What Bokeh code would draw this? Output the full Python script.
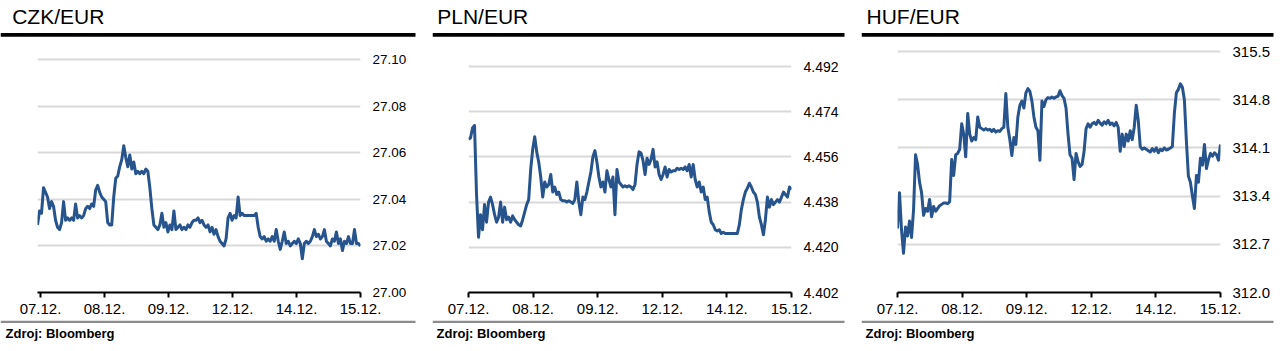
import numpy as np
from bokeh.plotting import figure
from bokeh.layouts import row, column
from bokeh.models import Range1d, FixedTicker, Label, BoxAnnotation, PrintfTickFormatter
from bokeh.embed import file_html
from bokeh.resources import INLINE

# ---------------- data ----------------
dates = ["07.12.", "08.12.", "09.12.", "12.12.", "14.12.", "15.12."]
titles = ["CZK/EUR", "PLN/EUR", "HUF/EUR"]
source_text = "Zdroj: Bloomberg"

czk_ticks = [27.00, 27.02, 27.04, 27.06, 27.08, 27.10]
pln_ticks = [4.402, 4.420, 4.438, 4.456, 4.474, 4.492]
huf_ticks = [312.0, 312.7, 313.4, 314.1, 314.8, 315.5]

czk = [27.029, 27.035, 27.034, 27.045, 27.043, 27.041, 27.036, 27.039, 27.037, 27.031,
       27.028, 27.027, 27.030, 27.039, 27.031, 27.032, 27.031, 27.032, 27.031, 27.038,
       27.032, 27.033, 27.032, 27.033, 27.036, 27.037, 27.036, 27.038, 27.037, 27.044,
       27.046, 27.043, 27.041, 27.040, 27.039, 27.030, 27.029, 27.029, 27.041, 27.049,
       27.050, 27.054, 27.057, 27.063, 27.058, 27.054, 27.059, 27.053, 27.056, 27.051,
       27.052, 27.051, 27.052, 27.051, 27.053, 27.052, 27.045, 27.036, 27.029, 27.028,
       27.027, 27.029, 27.034, 27.028, 27.030, 27.026, 27.029, 27.027, 27.035, 27.027,
       27.028, 27.029, 27.027, 27.028, 27.027, 27.029, 27.028, 27.030, 27.031, 27.031,
       27.032, 27.030, 27.031, 27.029, 27.028, 27.029, 27.026, 27.028, 27.025, 27.027,
       27.024, 27.022, 27.021, 27.020, 27.023, 27.032, 27.034, 27.031, 27.033, 27.032,
       27.041, 27.033, 27.034, 27.033, 27.033, 27.033, 27.033, 27.033, 27.033, 27.034,
       27.028, 27.024, 27.023, 27.024, 27.022, 27.023, 27.022, 27.024, 27.022, 27.027,
       27.022, 27.0185, 27.022, 27.026, 27.021, 27.022, 27.020, 27.021, 27.022, 27.021,
       27.023, 27.021, 27.0145, 27.021, 27.022, 27.021, 27.022, 27.024, 27.027, 27.024,
       27.025, 27.023, 27.024, 27.027, 27.022, 27.021, 27.020, 27.023, 27.022, 27.026,
       27.021, 27.023, 27.018, 27.022, 27.021, 27.024, 27.021, 27.021, 27.027, 27.021,
       27.021, 27.020]

pln = [4.4630, 4.4635, 4.4675, 4.4685, 4.4410, 4.4240, 4.4330, 4.4270, 4.4370, 4.4300,
       4.4380, 4.4400, 4.4370, 4.4330, 4.4300, 4.4320, 4.4380, 4.4300, 4.4360, 4.4310,
       4.4320, 4.4300, 4.4325, 4.4310, 4.4300, 4.4290, 4.4285, 4.4310, 4.4340, 4.4370,
       4.4390, 4.4510, 4.4590, 4.4640, 4.4580, 4.4540, 4.4480, 4.4400, 4.4460, 4.4440,
       4.4450, 4.4490, 4.4420, 4.4440, 4.4410, 4.4420, 4.4390, 4.4385, 4.4385, 4.4380,
       4.4385, 4.4380, 4.4375, 4.4390, 4.4460, 4.4380, 4.4330, 4.4400, 4.4390, 4.4420,
       4.4460, 4.4500, 4.4560, 4.4585, 4.4540, 4.4480, 4.4440, 4.4460, 4.4420, 4.4505,
       4.4470, 4.4440, 4.4480, 4.4330, 4.4510, 4.4460, 4.4450, 4.4440, 4.4445, 4.4440,
       4.4445, 4.4440, 4.4430, 4.4450, 4.4530, 4.4580, 4.4575, 4.4545, 4.4490, 4.4555,
       4.4530, 4.4550, 4.4590, 4.4520, 4.4540, 4.4490, 4.4470, 4.4490, 4.4520, 4.4480,
       4.4510, 4.4500, 4.4505, 4.4505, 4.4515, 4.4510, 4.4515, 4.4510, 4.4520, 4.4505,
       4.4530, 4.4480, 4.4530, 4.4470, 4.4440, 4.4460, 4.4420, 4.4440, 4.4390, 4.4400,
       4.4340, 4.4300, 4.4290, 4.4270, 4.4265, 4.4270, 4.4255, 4.4260, 4.4255, 4.4255,
       4.4255, 4.4255, 4.4255, 4.4255, 4.4255, 4.4290, 4.4350, 4.4390, 4.4420, 4.4435,
       4.4455, 4.4440, 4.4420, 4.4410, 4.4380, 4.4320, 4.4290, 4.4250, 4.4310, 4.4400,
       4.4360, 4.4390, 4.4370, 4.4380, 4.4390, 4.4380, 4.4400, 4.4420, 4.4410, 4.4400,
       4.4440, 4.4430]

huf = [312.93, 313.45, 312.91, 312.57, 312.95, 312.82, 313.04, 312.80, 313.20, 314.00,
       313.86, 313.60, 313.45, 313.12, 313.22, 313.18, 313.35, 313.10, 313.25, 313.18,
       313.22, 313.26, 313.28, 313.30, 313.30, 313.29, 313.32, 313.93, 313.70, 314.00,
       314.02, 314.08, 314.45, 314.30, 313.97, 314.60, 314.30, 314.20, 314.25, 314.22,
       314.55, 314.40, 314.38, 314.36, 314.38, 314.36, 314.37, 314.34, 314.37, 314.33,
       314.35, 314.34, 314.38, 314.40, 314.89, 314.40, 314.22, 313.99, 314.25, 314.15,
       314.55, 314.72, 314.78, 314.68, 314.90, 314.96, 314.92, 314.78, 314.55, 314.40,
       314.35, 313.92, 314.78, 314.70, 314.80, 314.83, 314.82, 314.84, 314.82, 314.84,
       314.85, 314.93, 314.86, 314.82, 314.68, 314.30, 314.00, 313.95, 313.64, 314.02,
       313.90, 313.83, 313.86, 314.05, 314.38, 314.45, 314.40, 314.45, 314.47, 314.44,
       314.50, 314.46, 314.43, 314.48, 314.45, 314.50, 314.44, 314.46, 314.42, 314.47,
       314.40, 314.05, 314.30, 314.12, 314.30, 314.20, 314.35, 314.22, 314.40, 314.72,
       314.50, 314.12, 314.08, 314.10, 314.08, 314.06, 314.04, 314.09, 314.05, 314.10,
       314.03, 314.08, 314.06, 314.10, 314.07, 314.08, 314.10, 314.12, 314.60, 314.90,
       314.95, 315.03, 314.98, 314.80, 314.20, 313.69, 313.60, 313.40, 313.22, 313.70,
       313.60, 313.95, 313.85, 314.15, 313.80, 313.93, 314.02, 313.98, 314.03, 314.00,
       313.92, 314.15]

# ---------------- style ----------------
LINE_COLOR = "#27548c"
GRID_COLOR = "#d9d9d9"
FONT = "Liberation Sans"
H = 351
HEAD_H = 37          # header strip: canvas y 0..37
FOOT_TOP = 320       # footer strip: canvas y 320..351
FRAME_BOTTOM = 292   # canvas y of the x axis


def strip(width, height):
    s = figure(width=width, height=height, title=None,
               x_range=Range1d(0, width), y_range=Range1d(0, height),
               output_backend="svg", toolbar_location=None,
               x_axis_location=None, y_axis_location=None, min_border=0,
               frame_align=False)
    s.outline_line_color = None
    s.grid.visible = False
    s.background_fill_color = "white"
    s.border_fill_color = "white"
    return s


def make_panel(title, vals, yticks, fmt, width, left, right, top, x_start,
               title_x, rule_w, src_x, ylab_size):
    # ---- header: title + black rule
    head = strip(width, HEAD_H)
    head.add_layout(Label(x=title_x, y=HEAD_H - 15.8, text=title, text_font=FONT,
                          text_font_size="21px", text_color="black",
                          text_baseline="middle"))
    head.add_layout(BoxAnnotation(left=0, right=rule_w, top=HEAD_H - 32.5,
                                  bottom=HEAD_H - 36.2, fill_color="black",
                                  fill_alpha=1.0, line_color=None))

    # ---- main chart
    span = yticks[-1] - yticks[0]
    plot_h = FRAME_BOTTOM - top
    pad = span * 2.0 / plot_h
    main_h = FOOT_TOP - HEAD_H
    p = figure(width=width, height=main_h, title=None,
               x_range=Range1d(x_start, 5),
               y_range=Range1d(yticks[0], yticks[-1] + pad),
               output_backend="svg", toolbar_location=None,
               x_axis_location="below", y_axis_location="right",
               min_border_left=left, min_border_right=right,
               min_border_top=top - HEAD_H - 2,
               min_border_bottom=FOOT_TOP - FRAME_BOTTOM,
               frame_align=False)
    p.outline_line_color = None
    p.background_fill_color = "white"
    p.border_fill_color = "white"

    xs = np.linspace(x_start, 5, len(vals))
    p.line(xs, vals, line_color=LINE_COLOR, line_width=3, line_join="round")

    xa = p.xaxis[0]
    xa.ticker = FixedTicker(ticks=list(range(len(dates))))
    xa.major_label_overrides = {i: d for i, d in enumerate(dates)}
    xa.axis_line_color = "black"
    xa.axis_line_width = 2
    xa.major_tick_line_color = "black"
    xa.major_tick_line_width = 2
    xa.major_tick_out = 5
    xa.major_tick_in = 0
    xa.minor_tick_line_color = None
    xa.major_label_standoff = 6
    xa.major_label_text_font = FONT
    xa.major_label_text_font_size = "15px"
    xa.major_label_text_color = "black"

    ya = p.yaxis[0]
    ya.ticker = FixedTicker(ticks=yticks)
    ya.formatter = PrintfTickFormatter(format=fmt)
    ya.axis_line_color = None
    ya.major_tick_line_color = None
    ya.minor_tick_line_color = None
    ya.major_tick_out = 0
    ya.major_tick_in = 0
    ya.major_label_standoff = 12
    ya.major_label_text_font = FONT
    ya.major_label_text_font_size = ylab_size
    ya.major_label_text_color = "black"

    p.xgrid.grid_line_color = None
    p.ygrid.ticker = FixedTicker(ticks=yticks)
    p.ygrid.grid_line_color = GRID_COLOR
    p.ygrid.grid_line_width = 2

    # ---- footer: grey rule + source
    fh = H - FOOT_TOP
    foot = strip(width, fh)
    foot.add_layout(BoxAnnotation(left=0, right=rule_w, top=fh, bottom=fh - 2.5,
                                  fill_color="#8c8c8c", fill_alpha=1.0, line_color=None))
    foot.add_layout(Label(x=src_x, y=H - 333, text=source_text, text_font=FONT,
                          text_font_size="13px", text_font_style="bold",
                          text_color="black", text_baseline="middle"))
    return column(head, p, foot, spacing=0)


c1 = make_panel(titles[0], czk, czk_ticks, "%.2f", 432, 37, 72, 59, -0.047,
                11.7, 415, 5, "13.5px")
c2 = make_panel(titles[1], pln, pln_ticks, "%.3f", 429, 36, 70, 66, 0.0,
                4.7, 412, 4, "14px")
c3 = make_panel(titles[2], huf, huf_ticks, "%.1f", 422, 36, 63, 51, 0.0,
                5, 412, 4, "15px")

layout = row(c1, c2, c3, spacing=0)

with open("out.html", "w") as f:
    f.write(file_html(layout, INLINE))
